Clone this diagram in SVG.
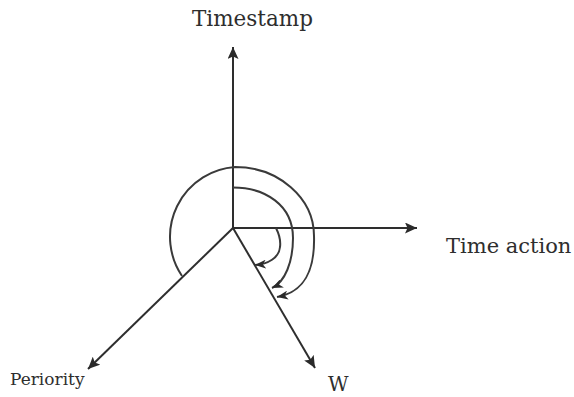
<svg xmlns="http://www.w3.org/2000/svg" width="574" height="397" viewBox="0 0 574 397">
  <defs>
    <style>
      .axis { stroke: #2e2e2e; stroke-width: 2; fill: none; }
      .arc { stroke: #3a3a3a; stroke-width: 2; fill: none; }
      .lbl { font-family: "DejaVu Serif", "Liberation Serif", serif; fill: #2e2e2e; }
    </style>
    <marker id="big" viewBox="0 0 12 11" refX="12" refY="5.5" markerWidth="12" markerHeight="11" markerUnits="userSpaceOnUse" orient="auto">
      <path d="M0,0 L12,5.5 L0,11 L2.5,5.5 z" fill="#2a2a2a"/>
    </marker>
    <marker id="small" viewBox="0 0 11 9" refX="11" refY="4.5" markerWidth="11" markerHeight="9" markerUnits="userSpaceOnUse" orient="auto">
      <path d="M0,0 L11,4.5 L0,9 L3,4.5 z" fill="#2a2a2a"/>
    </marker>
  </defs>
  <rect width="574" height="397" fill="#ffffff"/>
  <g id="connectors">
    <line class="axis" x1="233" y1="228" x2="233" y2="47" marker-end="url(#big)"/>
    <line class="axis" x1="233" y1="228" x2="417" y2="228" marker-end="url(#big)"/>
    <line class="axis" x1="233" y1="228" x2="315" y2="368" marker-end="url(#big)"/>
    <line class="axis" x1="233" y1="228" x2="88" y2="369" marker-end="url(#big)"/>
    <path id="arc-big" class="arc" marker-end="url(#small)" d="M182,276 A70,70 0 0 1 235,167 C278.5,167 314,198 314,236 C315,270 305,292 277,297"/>
    <path id="arc-mid" class="arc" marker-end="url(#small)" d="M233,187.5 C265,187.5 293,205 293,238 C293,262 285,282 272,288"/>
    <path id="arc-small" class="arc" marker-end="url(#small)" d="M276,228 C279,234 281,240 280,247 C279,258 268,264 255,265"/>
  </g>
  <g id="timestamp"><text class="lbl" x="192" y="26" font-size="21.5">Timestamp</text></g>
  <g id="time-action"><text class="lbl" x="446" y="253" font-size="21">Time action</text></g>
  <g id="w"><text class="lbl" x="328" y="391" font-size="20">W</text></g>
  <g id="periority"><text class="lbl" x="10" y="385" font-size="17">Periority</text></g>
</svg>
